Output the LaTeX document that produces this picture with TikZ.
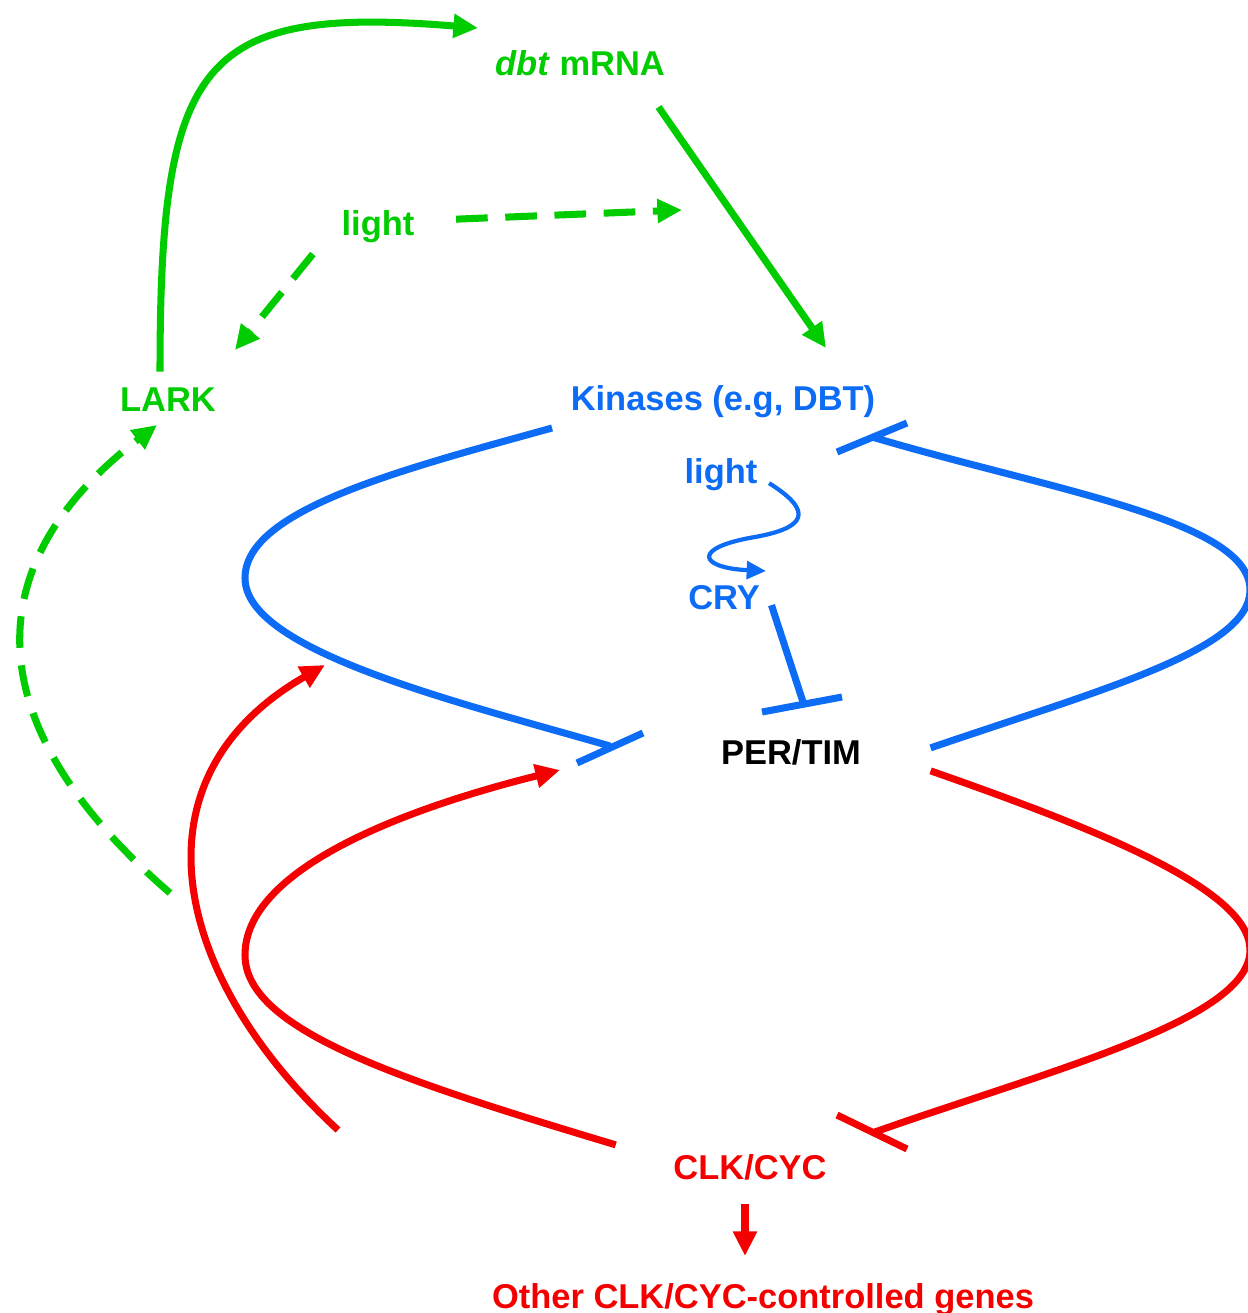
\documentclass[tikz,border=0pt]{standalone}
\usepackage{fontspec}
\setmainfont{Liberation Sans}
\usetikzlibrary{arrows.meta,positioning}

\definecolor{lgreen}{RGB}{0,204,0}
\definecolor{lblue}{RGB}{12,108,245}
\definecolor{lred}{RGB}{245,0,0}

\tikzset{
	lbl/.style={font=\bfseries\fontsize{9.8}{12}\selectfont,inner sep=0pt,anchor=base},
	link/.style={line width=2pt,line cap=butt},
	tip/.style={-{Triangle[length=7pt,width=6.5pt]}},
	dashlink/.style={link,dash pattern=on 9pt off 5pt},
}

\begin{document}
\begin{tikzpicture}[x=0.01cm,y=-0.01cm]
	\useasboundingbox (0,0) rectangle (1247,1313);
	% labels
	\node [lbl,text=lgreen] at (580,76) (dbt) {\textit{dbt} mRNA};
	\node [lbl,text=lgreen] at (378,236) (lightg) {light};
	\node [lbl,text=lgreen] at (168,412) (lark) {LARK};
	\node [lbl,text=lblue] at (723,411) (kin) {Kinases (e.g, DBT)};
	\node [lbl,text=lblue] at (721,483) (lightb) {light};
	\node [lbl,text=lblue] at (724,609) (cry) {CRY};
	\node [lbl,text=black] at (791,764) (pertim) {PER/TIM};
	\node [lbl,text=lred] at (750,1179) (clkcyc) {CLK/CYC};
	\node [lbl,text=lred] at (763,1308) (other) {Other CLK/CYC-controlled genes};
	\coordinate (larkin) at (157,425);
	% green part
	\draw [link,tip,lgreen] (lark.north) ++(-8,-16) .. controls (160,60) and (200,5) .. (478,28);
	\draw [link,tip,lgreen] (dbt.south east) ++(-7,30) -- (826,348);
	\draw [dashlink,tip,lgreen] (lightg.east) ++(41,-8) -- (682,210);
	\draw [dashlink,tip,lgreen] (lightg.south west) ++(-28,10) -- (235,350);
	\draw [dashlink,tip,lgreen] (170,893) .. controls (-30,720) and (-20,560) .. (larkin);
	% blue part
	\draw [link,lblue] (kin.south west) ++(-18,9) .. controls (400,470) and (245,510) .. (245,578)
		.. controls (245,650) and (450,700) .. (610,746) ++(-33,17) -- ++(66,-30);
	\draw [link,lblue] (pertim.east) ++(69,-4) .. controls (1100,690) and (1250,650) .. (1250,590)
		.. controls (1250,520) and (1050,490) .. (872,437) ++(-35,15) -- ++(70,-29);
	\draw [link,lblue] (cry.east) ++(11,8) -- (804,705) ++(-42,7) -- ++(80,-15);
	\draw [line width=1.2pt,lblue,-{Triangle[length=5.5pt,width=5pt]}] (lightb.east) ++(11,9)
		.. controls (815,512) and (805,528) .. (755,537) .. controls (690,548) and (700,568) .. (766,571);
	% red part
	\draw [link,tip,lred] (clkcyc.west) ++(-57,-22) .. controls (400,1080) and (245,1030) .. (245,955)
		.. controls (245,870) and (400,810) .. (560,770);
	\draw [link,lred] (pertim.east) ++(69,19) .. controls (1100,830) and (1250,890) .. (1250,950)
		.. controls (1250,1020) and (1050,1070) .. (872,1133) ++(-35,-18) -- ++(70,34);
	\draw [link,tip,lred] (338,1130) .. controls (175,980) and (125,780) .. (325,665);
	\draw [line width=2.4pt,lred,-{Triangle[length=7pt,width=6.5pt]}] (clkcyc.south) ++(-5,24) -- (745,1256);
\end{tikzpicture}
\end{document}
